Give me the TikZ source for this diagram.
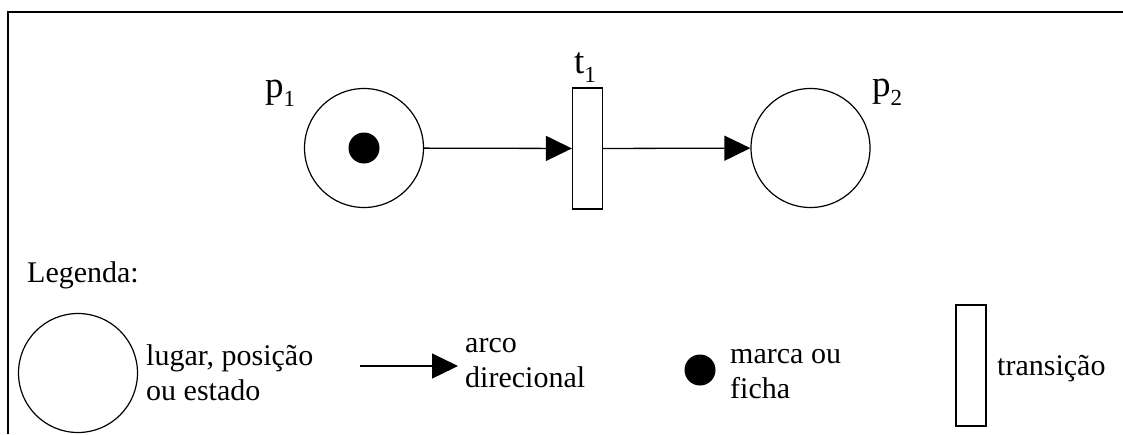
\documentclass[tikz,border=0pt]{standalone}
\usepackage{fontspec}
\setmainfont{Liberation Serif}
\usetikzlibrary{arrows.meta,positioning}
\newcommand{\indice}[1]{\raisebox{-0.25em}{\fontsize{23}{23}\selectfont #1}}

\begin{document}
\begin{tikzpicture}[x=1pt,y=-1pt,
  lugar/.style={draw,circle,line width=1.2pt,minimum size=119pt,inner sep=0pt},
  transicao/.style={draw,rectangle,line width=1.2pt,minimum width=30pt,minimum height=121pt,inner sep=0pt},
  ficha/.style={fill=black,circle,minimum size=31pt,inner sep=0pt},
  arco/.style={line width=1.3pt,-{Triangle[length=26pt,width=25pt]}},
  rotulo/.style={font=\fontsize{37}{40}\selectfont,inner sep=0pt,anchor=base west},
  legenda/.style={font=\fontsize{30}{35}\selectfont,align=left,inner sep=0pt,anchor=base west}]
\useasboundingbox (0,0) rectangle (1123,434);
\draw[line width=1.6pt] (8,434) -- (8,12) -- (1123,12);
\node[lugar] (p1) at (364,148) {};
\node[ficha] (m1) at (p1) {};
\node[transicao] (t1) at (587.5,148.5) {};
\node[lugar] (p2) at (810.5,148) {};
\draw[arco] (p1) -- (t1);
\draw[arco] (t1) -- (p2);
\node[rotulo] (lp1) at (265,97) {p\indice{1}};
\node[rotulo] (lt1) at (574,73) {t\indice{1}};
\node[rotulo] (lp2) at (872,96) {p\indice{2}};
\node[legenda] (leg) at (27,282) {Legenda:};
\node[lugar] (lc) at (78,373) {};
\node[legenda] (tc) at (146,400) {lugar, posição\\ou estado};
\coordinate (a0) at (360,366);
\coordinate (a1) at (458,366);
\draw[arco] (a0) -- (a1);
\node[legenda] (ta) at (465,387) {arco\\direcional};
\node[ficha] (lm) at (700,370) {};
\node[legenda] (tm) at (730,398) {marca ou\\ficha};
\node[transicao] (lt) at (971,365.5) {};
\node[legenda] (tt) at (997,375) {transição};
\end{tikzpicture}
\end{document}
